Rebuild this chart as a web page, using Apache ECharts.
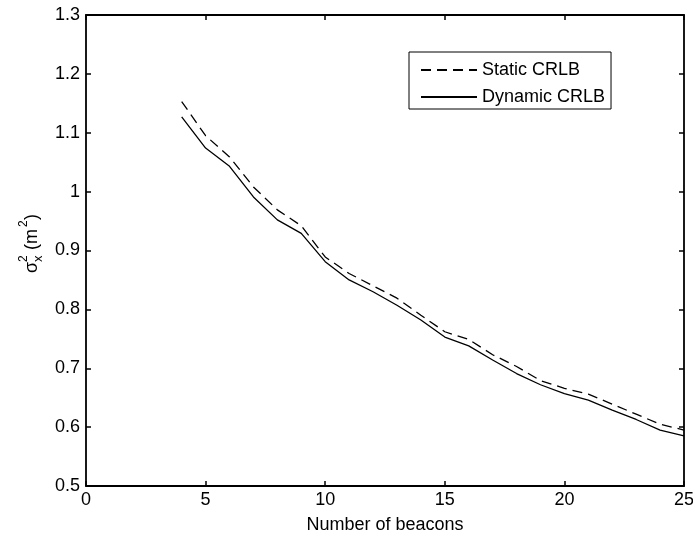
<!DOCTYPE html>
<html>
<head>
<meta charset="utf-8">
<script src="https://cdn.jsdelivr.net/npm/echarts@6/dist/echarts.min.js"></script>
<style>html,body{margin:0;padding:0;background:#fff}#c{width:693px;height:533px}</style>
</head>
<body>
<div id="c"></div>
<script>
var beacons = [4,5,6,7,8,9,10,11,12,13,14,15,16,17,18,19,20,21,22,23,24,25];
var staticCRLB = [1.153,1.095,1.059,1.008,0.969,0.942,0.889,0.861,0.840,0.819,0.790,0.762,0.749,0.723,0.703,0.679,0.666,0.656,0.639,0.622,0.605,0.595];
var dynamicCRLB = [1.127,1.074,1.043,0.991,0.952,0.929,0.881,0.850,0.830,0.807,0.782,0.753,0.738,0.714,0.691,0.672,0.657,0.646,0.629,0.613,0.595,0.585];
var xTicks = [0,5,10,15,20,25];
var yTicks = [0.5,0.6,0.7,0.8,0.9,1,1.1,1.2,1.3];

var FONT = '"Liberation Sans", Arial, sans-serif';
var FS = 18;
function pairs(xs, ys){ return xs.map(function(x,i){ return [x, ys[i]]; }); }
var axisLineStyle = {color:'#000', width:1.8};
var chart = echarts.init(document.getElementById('c'), null, {renderer:'canvas'});
var baseX = {type:'value', min:0, max:25, interval:5,
  axisLine:{show:true, onZero:false, lineStyle:axisLineStyle},
  axisTick:{show:true, inside:true, length:5, lineStyle:{color:'#000', width:1.5}},
  splitLine:{show:false}};
var baseY = {type:'value', min:0.5, max:1.3, interval:0.1,
  axisLine:{show:true, onZero:false, lineStyle:axisLineStyle},
  axisTick:{show:true, inside:true, length:5, lineStyle:{color:'#000', width:1.5}},
  splitLine:{show:false}};
chart.setOption({
  animation:false,
  backgroundColor:'#fff',
  grid:{left:86, right:9, top:15, bottom:47, containLabel:false, outerBoundsMode:'none'},
  xAxis:[
    Object.assign({}, baseX, {position:'bottom',
      axisLabel:{color:'#000', fontFamily:FONT, fontSize:FS, margin:5,
        formatter:function(v){ return xTicks.indexOf(v)>=0 ? String(v) : ''; }},
      name:'Number of beacons', nameLocation:'middle', nameGap:30,
      nameTextStyle:{color:'#000', fontFamily:FONT, fontSize:FS}}),
    Object.assign({}, baseX, {position:'top', axisLabel:{show:false}})
  ],
  yAxis:[
    Object.assign({}, baseY, {position:'left',
      axisLabel:{color:'#000', fontFamily:FONT, fontSize:FS, margin:6,
        formatter:function(v){ var r=Math.round(v*10)/10; return yTicks.indexOf(r)>=0 ? (r===1?'1':r.toFixed(1)) : ''; }}}),
    Object.assign({}, baseY, {position:'right', axisLabel:{show:false}})
  ],
  legend:{
    orient:'vertical', left:409, top:52,
    backgroundColor:'#fff', borderColor:'#000', borderWidth:1, borderRadius:0,
    padding:[9,6,3,11], itemGap:9, itemWidth:56, itemHeight:18,
    itemStyle:{opacity:0},
    textStyle:{color:'#000', fontFamily:FONT, fontSize:FS},
    data:['Static CRLB','Dynamic CRLB']
  },
  series:[
    {name:'Static CRLB', type:'line', data:pairs(beacons, staticCRLB), symbol:'none',
      lineStyle:{color:'#000', width:1.3, type:[10,6]}, itemStyle:{color:'#000'}},
    {name:'Dynamic CRLB', type:'line', data:pairs(beacons, dynamicCRLB), symbol:'none',
      lineStyle:{color:'#000', width:1.3, type:'solid'}, itemStyle:{color:'#000'}}
  ],
  graphic:[{
    type:'group', x:32, y:245, rotation:Math.PI/2,
    children:[
      {type:'text', x:-28, y:0, style:{text:'σ', font:FS+'px '+FONT, fill:'#000', textAlign:'left', textVerticalAlign:'middle'}},
      {type:'text', x:-17, y:-8, style:{text:'2', font:'12px '+FONT, fill:'#000', textAlign:'left', textVerticalAlign:'middle'}},
      {type:'text', x:-17, y:6, style:{text:'x', font:'13px '+FONT, fill:'#000', textAlign:'left', textVerticalAlign:'middle'}},
      {type:'text', x:-5, y:0, style:{text:'(m', font:FS+'px '+FONT, fill:'#000', textAlign:'left', textVerticalAlign:'middle'}},
      {type:'text', x:18, y:-8, style:{text:'2', font:'12px '+FONT, fill:'#000', textAlign:'left', textVerticalAlign:'middle'}},
      {type:'text', x:25, y:0, style:{text:')', font:FS+'px '+FONT, fill:'#000', textAlign:'left', textVerticalAlign:'middle'}}
    ]
  }]
});
</script>
</body>
</html>
